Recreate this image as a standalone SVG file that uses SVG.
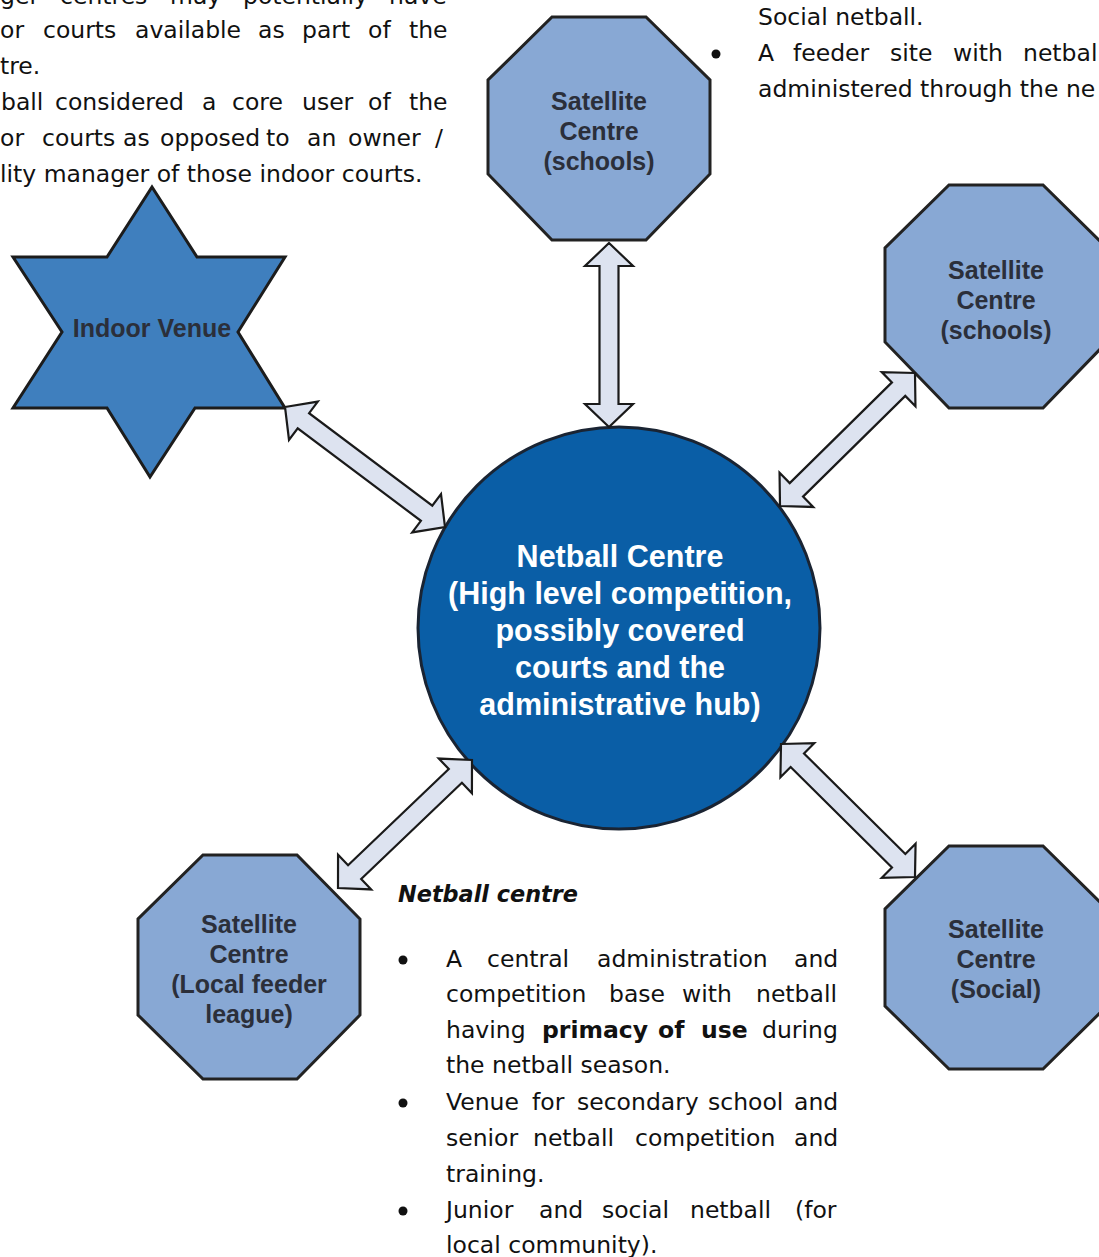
<svg xmlns="http://www.w3.org/2000/svg" width="1099" height="1257" viewBox="0 0 1099 1257">
<style>
.body{font-family:"DejaVu Sans",Verdana,sans-serif;font-size:23.5px;fill:#111}
.b{font-weight:bold}
.oct{fill:#88a8d4;stroke:#222;stroke-width:3;stroke-linejoin:miter}
.lbl{font-family:"Liberation Sans",Arial,sans-serif;font-weight:bold;font-size:25px;fill:#2b2f3a;text-anchor:middle}
.ctr{font-family:"Liberation Sans",Arial,sans-serif;font-weight:bold;font-size:30.5px;fill:#fff;text-anchor:middle}
.arr{fill:#dde3f0;stroke:#1a1a1a;stroke-width:2.2;stroke-linejoin:miter}
.bul{fill:#111}
</style>

<g id="notes-top-left" class="body">
<text y="4"><tspan x="0">ger</tspan><tspan x="60">centres</tspan><tspan x="170">may</tspan><tspan x="243">potentially</tspan><tspan x="389">have</tspan></text>
<text y="38"><tspan x="0">or</tspan><tspan x="43">courts</tspan><tspan x="135">available</tspan><tspan x="258">as</tspan><tspan x="302">part</tspan><tspan x="368">of</tspan><tspan x="409">the</tspan></text>
<text x="0" y="74">tre.</text>
<text y="110"><tspan x="1">ball</tspan><tspan x="55">considered</tspan><tspan x="202">a</tspan><tspan x="232">core</tspan><tspan x="302">user</tspan><tspan x="368">of</tspan><tspan x="409">the</tspan></text>
<text y="146"><tspan x="0">or</tspan><tspan x="42">courts</tspan><tspan x="123">as</tspan><tspan x="160">opposed</tspan><tspan x="266">to</tspan><tspan x="307">an</tspan><tspan x="348">owner</tspan><tspan x="435">/</tspan></text>
<text x="0" y="182">lity manager of those indoor courts.</text>
</g>

<g id="notes-top-right" class="body">
<text x="758" y="25">Social netball.</text>
<circle class="bul" cx="716" cy="54" r="4.5"/>
<text y="61"><tspan x="758">A</tspan><tspan x="793">feeder</tspan><tspan x="890">site</tspan><tspan x="953">with</tspan><tspan x="1023">netbal</tspan></text>
<text x="758" y="97">administered through the ne</text>
</g>

<g id="notes-netball-centre" class="body">
<text x="398" y="902" font-weight="bold" font-style="italic" textLength="180" lengthAdjust="spacingAndGlyphs">Netball centre</text>
<circle class="bul" cx="403" cy="960" r="4.5"/>
<circle class="bul" cx="403" cy="1103" r="4.5"/>
<circle class="bul" cx="403" cy="1211" r="4.5"/>
<text y="967"><tspan x="446">A</tspan><tspan x="487">central</tspan><tspan x="597">administration</tspan><tspan x="794">and</tspan></text>
<text y="1002"><tspan x="446">competition</tspan><tspan x="609">base</tspan><tspan x="682">with</tspan><tspan x="756">netball</tspan></text>
<text y="1038"><tspan x="446">having</tspan><tspan x="542" class="b">primacy</tspan><tspan x="658" class="b">of</tspan><tspan x="701" class="b">use</tspan><tspan x="762">during</tspan></text>
<text x="446" y="1073">the netball season.</text>
<text y="1110"><tspan x="446">Venue</tspan><tspan x="532">for</tspan><tspan x="577">secondary</tspan><tspan x="708">school</tspan><tspan x="794">and</tspan></text>
<text y="1146"><tspan x="446">senior</tspan><tspan x="533">netball</tspan><tspan x="635">competition</tspan><tspan x="794">and</tspan></text>
<text x="446" y="1182">training.</text>
<text y="1218"><tspan x="446">Junior</tspan><tspan x="539">and</tspan><tspan x="602">social</tspan><tspan x="690">netball</tspan><tspan x="795">(for</tspan></text>
<text x="446" y="1253">local community).</text>
</g>

<g id="node-indoor-venue">
<path d="M152,187 L197,257 L285,257 L238,332 L285,408 L195,408 L150,477 L107,408 L13,408 L62,332 L13,257 L107,257 Z" fill="#3f7fbe" stroke="#1c1c1c" stroke-width="3" stroke-linejoin="miter"/>
<text class="lbl" x="152" y="337" fill="#1e2833">Indoor Venue</text>
</g>

<g id="node-satellite-top">
<polygon class="oct" points="552,17 646,17 710,80 710,174 646,240 552,240 488,174 488,80"/>
<text class="lbl" x="599" y="110">Satellite</text>
<text class="lbl" x="599" y="140">Centre</text>
<text class="lbl" x="599" y="170">(schools)</text>
</g>

<g id="node-satellite-right">
<polygon class="oct" points="949,185 1043,185 1107,248 1107,342 1043,408 949,408 885,342 885,248"/>
<text class="lbl" x="996" y="279">Satellite</text>
<text class="lbl" x="996" y="309">Centre</text>
<text class="lbl" x="996" y="339">(schools)</text>
</g>

<g id="node-satellite-local">
<polygon class="oct" points="203,855 297,855 360,919 360,1015 297,1079 203,1079 138,1015 138,919"/>
<text class="lbl" x="249" y="933">Satellite</text>
<text class="lbl" x="249" y="963">Centre</text>
<text class="lbl" x="249" y="993">(Local feeder</text>
<text class="lbl" x="249" y="1023">league)</text>
</g>

<g id="node-satellite-social">
<polygon class="oct" points="949,846 1043,846 1107,909 1107,1006 1043,1069 949,1069 885,1006 885,909"/>
<text class="lbl" x="996" y="938">Satellite</text>
<text class="lbl" x="996" y="968">Centre</text>
<text class="lbl" x="996" y="998">(Social)</text>
</g>

<g id="node-netball-centre">
<circle cx="619" cy="628" r="201" fill="#0a5ea6" stroke="#1a2433" stroke-width="3"/>
<text class="ctr" x="620" y="567">Netball Centre</text>
<text class="ctr" x="620" y="604">(High level competition,</text>
<text class="ctr" x="620" y="641">possibly covered</text>
<text class="ctr" x="620" y="678">courts and the</text>
<text class="ctr" x="620" y="715">administrative hub)</text>
</g>

<g id="connectors">
<path class="arr" transform="translate(609,243) rotate(90)" d="M0,0 L23,-24 L23,-9.5 L161,-9.5 L161,-24 L184,0 L161,24 L161,9.5 L23,9.5 L23,24 Z"/>
<path class="arr" transform="translate(285,407) rotate(36.87)" d="M0,0 L23,-24 L23,-9.5 L177,-9.5 L177,-24 L200,0 L177,24 L177,9.5 L23,9.5 L23,24 Z"/>
<path class="arr" transform="translate(780,506) rotate(-44.57)" d="M0,0 L23,-24 L23,-9.5 L166.5,-9.5 L166.5,-24 L189.5,0 L166.5,24 L166.5,9.5 L23,9.5 L23,24 Z"/>
<path class="arr" transform="translate(338,888) rotate(-43.69)" d="M0,0 L23,-24 L23,-9.5 L162.3,-9.5 L162.3,-24 L185.3,0 L162.3,24 L162.3,9.5 L23,9.5 L23,24 Z"/>
<path class="arr" transform="translate(781,744) rotate(44.79)" d="M0,0 L23,-24 L23,-9.5 L165.8,-9.5 L165.8,-24 L188.8,0 L165.8,24 L165.8,9.5 L23,9.5 L23,24 Z"/>
</g>
</svg>
